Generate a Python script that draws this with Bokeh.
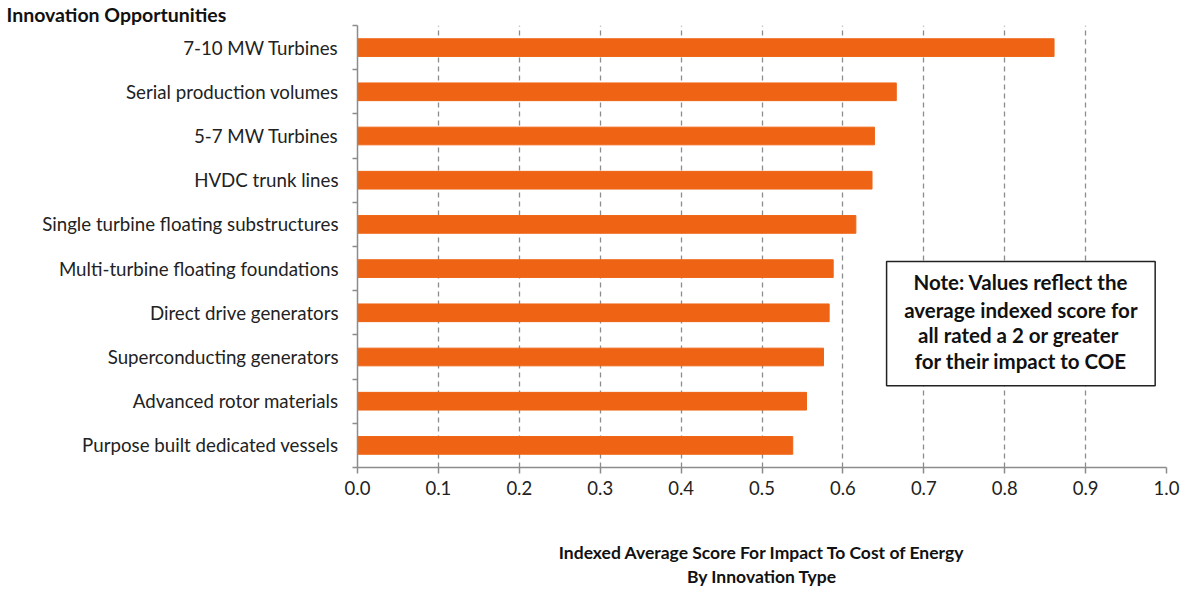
from bokeh.plotting import figure
from bokeh.models import (ColumnDataSource, FixedTicker, PrintfTickFormatter,
                          Label, BoxAnnotation, Range1d, Title)
from bokeh.embed import file_html
from bokeh.resources import INLINE

# ---- data ----
categories = [
    "7-10 MW Turbines",
    "Serial production volumes",
    "5-7 MW Turbines",
    "HVDC trunk lines",
    "Single turbine floating substructures",
    "Multi-turbine floating foundations",
    "Direct drive generators",
    "Superconducting generators",
    "Advanced rotor materials",
    "Purpose built dedicated vessels",
]
scores = [0.861, 0.666, 0.639, 0.636, 0.616, 0.588, 0.583, 0.576, 0.555, 0.538]
x_ticks = [0.0, 0.1, 0.2, 0.3, 0.4, 0.5, 0.6, 0.7, 0.8, 0.9, 1.0]
note_lines = [
    "Note: Values reflect the",
    "average indexed score for",
    "all  rated a 2 or greater",
    "for their impact to COE",
]
title_text = "Innovation Opportunities"
xlabel_lines = ["Indexed Average Score For Impact To Cost of Energy", "By Innovation Type"]

FONT = "Lato"
ORANGE = "#EF6414"
GRAY = "#8c8c8c"

n = len(categories)
ypos = [n - 1 - i for i in range(n)]
src = ColumnDataSource(dict(y=ypos, score=scores, cat=categories))

W, H = 1181, 589
p = figure(width=W, height=H, output_backend="svg", toolbar_location=None,
           x_range=Range1d(0, 1.0), y_range=Range1d(-0.5, n - 0.5),
           min_border_left=357, min_border_right=15, min_border_top=15,
           min_border_bottom=100)
p.outline_line_color = None
p.background_fill_color = "white"

p.hbar(y="y", right="score", left=0, height=0.4, source=src,
       fill_color=ORANGE, line_color=ORANGE)

# x axis
p.xaxis.ticker = FixedTicker(ticks=x_ticks)
p.xaxis.formatter = PrintfTickFormatter(format="%.1f")
p.xaxis.axis_line_color = GRAY
p.xaxis.axis_line_width = 1.5
p.xaxis.major_tick_line_color = GRAY
p.xaxis.major_tick_line_width = 1.5
p.xaxis.major_tick_out = 6
p.xaxis.major_tick_in = 0
p.xaxis.minor_tick_line_color = None
p.xaxis.major_label_text_font = FONT
p.xaxis.major_label_text_font_size = "18.5px"
p.xaxis.major_label_text_color = "#222222"
p.xaxis.major_label_standoff = 7
p.xaxis.axis_label = "\n".join(xlabel_lines)
p.xaxis.axis_label_text_font = FONT
p.xaxis.axis_label_text_font_style = "bold"
p.xaxis.axis_label_text_font_size = "17.5px"
p.xaxis.axis_label_text_color = "#111111"
p.xaxis.axis_label_text_line_height = 1.15
p.xaxis.axis_label_standoff = 44

# y axis
p.yaxis.ticker = FixedTicker(ticks=ypos, minor_ticks=[v - 0.5 for v in range(n + 1)])
p.yaxis.major_label_overrides = {y: c for y, c in zip(ypos, categories)}
p.yaxis.axis_line_color = GRAY
p.yaxis.axis_line_width = 1.5
p.yaxis.major_tick_line_color = None
p.yaxis.major_tick_out = 0
p.yaxis.major_tick_in = 0
p.yaxis.minor_tick_line_color = GRAY
p.yaxis.minor_tick_line_width = 1.5
p.yaxis.minor_tick_out = 5
p.yaxis.minor_tick_in = 0
p.yaxis.major_label_text_font = FONT
p.yaxis.major_label_text_font_size = "18.7px"
p.yaxis.major_label_text_color = "#222222"
p.yaxis.major_label_standoff = 14

# grid
p.ygrid.grid_line_color = None
p.xgrid.grid_line_color = GRAY
p.xgrid.grid_line_width = 1.3
p.xgrid.grid_line_dash = "5 4"

# note box
box = BoxAnnotation(left=0.654, right=0.986, top=4.16, bottom=1.35,
                    fill_color="white", fill_alpha=1.0,
                    line_color="#222222", line_alpha=1.0, line_width=1.5,
                    level="annotation")
p.add_layout(box)
note_y = [3.69, 3.07, 2.49, 1.91]
for t, yy in zip(note_lines, note_y):
    p.add_layout(Label(x=0.82, y=yy, text=t, text_align="center",
                       text_baseline="middle", text_font=FONT,
                       text_font_style="bold", text_font_size="20.5px",
                       text_color="#111111"))

# chart title (top-left)
p.add_layout(Title(text=title_text, align="left", offset=-351,
                   text_font=FONT, text_font_style="bold",
                   text_font_size="19.5px", text_color="#111111",
                   standoff=0), "above")

open("out.html", "w").write(file_html(p, INLINE))
